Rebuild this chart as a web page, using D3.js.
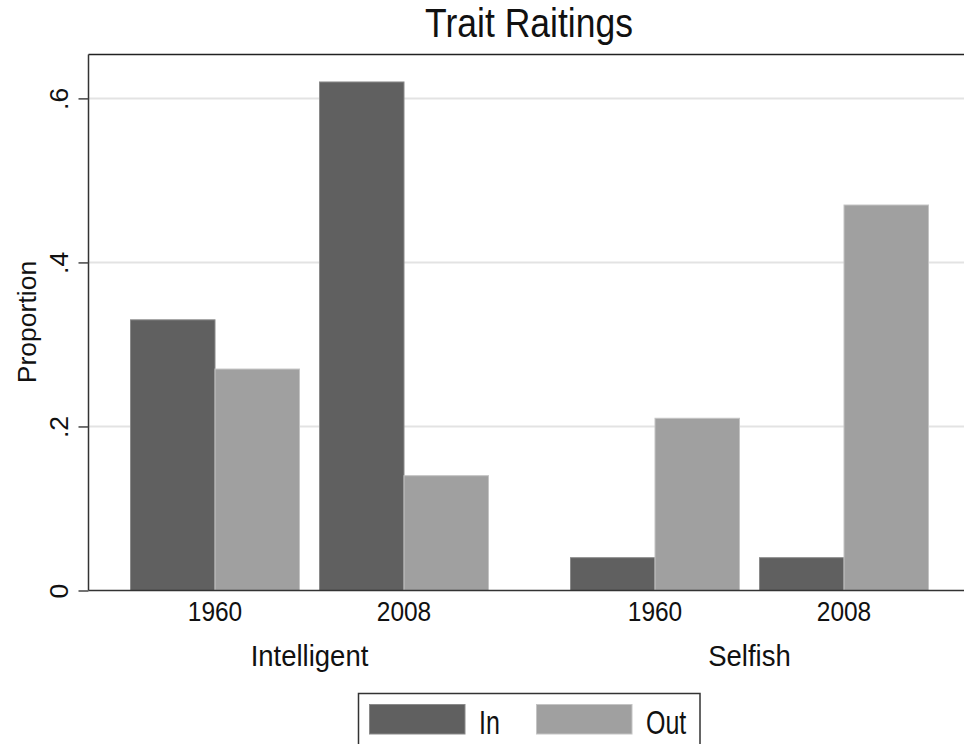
<!DOCTYPE html>
<html>
<head>
<meta charset="utf-8">
<script src="https://cdn.jsdelivr.net/npm/d3@7"></script>
<style>
  html, body { margin: 0; padding: 0; background: #fff; }
  svg { display: block; }
  text { font-family: "Liberation Sans", Arial, Helvetica, sans-serif; fill: #111; }
</style>
</head>
<body>
<svg id="chart" width="964" height="744"></svg>
<script>
// ---- data ----
const traits = ["Intelligent", "Selfish"];
const years = ["1960", "2008"];
const seriesNames = ["In", "Out"];
const inValues = [0.33, 0.62, 0.04, 0.04];   // Intelligent 1960, 2008, Selfish 1960, 2008
const outValues = [0.27, 0.14, 0.21, 0.47];
const yTickValues = [0, 0.2, 0.4, 0.6];
const yTickLabels = ["0", ".2", ".4", ".6"];
const titleText = "Trait Raitings";
const yLabelText = "Proportion";

const colors = { In: "#606060", Out: "#a0a0a0" };
const strokes = { In: "#8a8a8a", Out: "#c4c4c4" };

const rows = [];
traits.forEach((t, ti) => years.forEach((y, yi) => {
  const idx = ti * years.length + yi;
  rows.push({ trait: t, year: y, In: inValues[idx], Out: outValues[idx] });
}));

const svg = d3.select("#chart");

// plot region
const plot = { left: 88.5, top: 54.5, bottom: 590.5, right: 970 };

const y = d3.scaleLinear().domain([0, 0.6535]).range([plot.bottom, plot.top]);

const xTrait = d3.scaleBand().domain(traits).range([130.5, 928.5]).paddingInner(82 / 440).paddingOuter(0);
const xYear = d3.scaleBand().domain(years).range([0, xTrait.bandwidth()]).paddingInner(20 / 189).paddingOuter(0);
const xSeries = d3.scaleBand().domain(seriesNames).range([0, xYear.bandwidth()]).padding(0);

// gridlines
svg.append("g").selectAll("line").data(yTickValues.filter(d => d > 0)).join("line")
  .attr("x1", plot.left).attr("x2", plot.right)
  .attr("y1", d => y(d)).attr("y2", d => y(d))
  .attr("stroke", "#e3e3e3").attr("stroke-width", 2);

// bars
const gBars = svg.append("g");
rows.forEach(r => {
  seriesNames.forEach(s => {
    const x0 = xTrait(r.trait) + xYear(r.year) + xSeries(s);
    gBars.append("rect")
      .attr("x", x0).attr("width", xSeries.bandwidth())
      .attr("y", y(r[s])).attr("height", y(0) - y(r[s]))
      .attr("fill", colors[s]).attr("stroke", strokes[s]).attr("stroke-width", 1);
  });
});

// frame: top line
svg.append("line").attr("x1", plot.left).attr("x2", plot.right).attr("y1", plot.top).attr("y2", plot.top)
  .attr("stroke", "#222").attr("stroke-width", 1.5);

// y axis
const yAxis = d3.axisLeft(y).tickValues(yTickValues).tickFormat((d, i) => yTickLabels[i]).tickSize(10).tickPadding(0);
const gy = svg.append("g").attr("transform", `translate(${plot.left},0)`).call(yAxis);
gy.select(".domain").attr("stroke", "#333").attr("stroke-width", 1.5).attr("d", `M0,${plot.top}V${plot.bottom}`);
gy.selectAll(".tick line").attr("stroke", "#444").attr("stroke-width", 1.5);
gy.selectAll(".tick text")
  .attr("font-size", 26.5).attr("fill", "#111")
  .attr("text-anchor", "middle")
  .attr("x", null).attr("dy", null)
  .attr("transform", "translate(-21,0) rotate(-90)");

// x axis line
svg.append("line").attr("x1", plot.left).attr("x2", plot.right).attr("y1", plot.bottom).attr("y2", plot.bottom)
  .attr("stroke", "#333").attr("stroke-width", 1.5);

// helper for vertically-stretched text
function stretchedText(x, yBase, str, size, ky, anchor) {
  svg.append("g").attr("transform", `translate(${x},${yBase}) scale(1,${ky})`)
    .append("text").attr("text-anchor", anchor || "middle").attr("font-size", size).text(str);
}

// year labels
rows.forEach(r => {
  const cx = xTrait(r.trait) + xYear(r.year) + xSeries.step();
  stretchedText(cx, 620.5, r.year, 24.5, 1.1);
});
// trait labels
traits.forEach(t => {
  stretchedText(xTrait(t) + xTrait.bandwidth() / 2, 666, t, 27.5, 1.08);
});

// title
stretchedText(529, 37, titleText, 35.5, 1.15);

// y label
svg.append("text").attr("transform", `translate(36,322) rotate(-90)`)
  .attr("text-anchor", "middle").attr("font-size", 26.5).text(yLabelText);

// legend
const leg = svg.append("g");
leg.append("rect").attr("x", 358.5).attr("y", 693.5).attr("width", 341.5).attr("height", 70)
  .attr("fill", "#fff").attr("stroke", "#333").attr("stroke-width", 1.5);
const legItems = [
  { name: "In", sx: 369.5, tx: 479 },
  { name: "Out", sx: 536.5, tx: 646 }
];
legItems.forEach(it => {
  leg.append("rect").attr("x", it.sx).attr("y", 704.5).attr("width", 95.5).attr("height", 29.5)
    .attr("fill", colors[it.name]).attr("stroke", strokes[it.name]).attr("stroke-width", 1);
  stretchedText(it.tx, 733.5, it.name, 25, 1.3, "start");
});
</script>
</body>
</html>
